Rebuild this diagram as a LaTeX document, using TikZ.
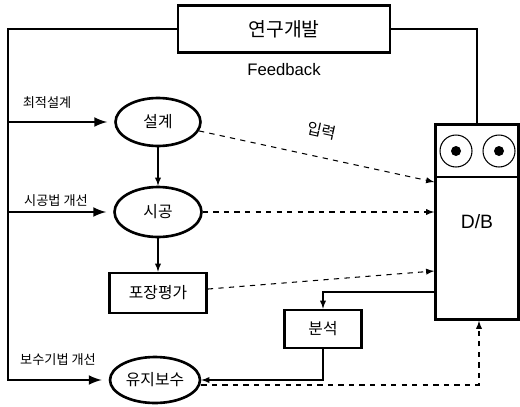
\documentclass[tikz,border=0pt]{standalone}
\usepackage{fontspec}
\setmainfont{Liberation Sans}
\newfontfamily\kr{Noto Sans CJK KR}
\usetikzlibrary{calc, shapes.geometric, positioning}

\tikzset{
  frame/.style={line width=1.5pt},
  work/.style={ellipse, draw, line width=1.5pt, inner sep=0pt, font=\kr\fontsize{9}{10}\selectfont},
  workbox/.style={rectangle, draw, line width=1.5pt, inner sep=0pt, font=\kr\fontsize{9}{10}\selectfont},
  fbarrow/.style={->, line width=1.5pt, shorten >=4pt},
  flow/.style={->, line width=0.6pt},
  datalink/.style={->, dashed, line width=0.6pt},
  tag/.style={font=\kr\fontsize{7.5}{9}\selectfont}
}

\begin{document}
\begin{tikzpicture}[>=latex, x=0.02cm, y=-0.02cm]
    \useasboundingbox (0,0) rectangle (520,406);

    % 1. Khối trên và D/B
    \node[workbox, minimum width=4.24cm, minimum height=0.94cm,
          font=\kr\fontsize{11}{12}\selectfont] (rnd) at (284,29) {연구개발};
    \node[font=\fontsize{9.5}{11}\selectfont] (fb) at (284,70) {Feedback};
    \node[rectangle, draw, line width=1.5pt, minimum width=1.66cm, minimum height=3.9cm,
          font=\fontsize{11}{12}\selectfont] (db) at (477,222) {D/B};
    \draw[line width=1.2pt] (435,177) -- (519,177);
    \node[circle, draw, line width=0.6pt, minimum size=0.64cm] (eye1) at (456,151) {};
    \node[circle, draw, line width=0.6pt, minimum size=0.64cm] (eye2) at (499,151) {};
    \fill (eye1) circle (5);
    \fill (eye2) circle (5);

    % 2. Các bước
    \node[work, minimum width=1.7cm, minimum height=0.96cm] (sul) at (158,122) {설계};
    \node[work, minimum width=1.74cm, minimum height=1.0cm] (sig) at (158,212) {시공};
    \node[workbox, minimum width=1.94cm, minimum height=0.8cm] (pav) at (158,293) {포장평가};
    \node[workbox, minimum width=1.54cm, minimum height=0.76cm] (ana) at (323,329) {분석};
    \node[work, minimum width=1.8cm, minimum height=0.92cm] (mnt) at (155,380) {유지보수};

    % 3. Vòng feedback
    \coordinate (lb) at (8,380);
    \draw[frame] (rnd.east) -| (db.north);
    \draw[fbarrow] (rnd.west) -| (lb) -- (mnt.west);
    \draw[fbarrow] (lb |- sul) -- (sul.west);
    \draw[fbarrow] (lb |- sig) -- (sig.west);
    \node[tag] at (47,103) {최적설계};
    \node[tag] at (56,201) {시공법 개선};
    \node[tag] at (58,360) {보수기법 개선};

    % 4. Luồng
    \draw[flow] (sul) -- (sig);
    \draw[flow] (sig) -- (pav);
    \draw[flow] (db.west |- 0,292) -| (ana.north);
    \draw[flow] (ana.south) |- (mnt.east);

    % 5. Nhập dữ liệu
    \draw[datalink] (sul) -- node[sloped, above=7pt, font=\kr\fontsize{9}{10}\selectfont] {입력} (db.west |- 0,182);
    \draw[datalink] (sig) -- (db.west |- sig);
    \draw[datalink] (pav) -- (db.west |- 0,271);
    \draw[datalink] (mnt.east |- 0,385) -| (db.south -| 479,0);
\end{tikzpicture}
\end{document}
